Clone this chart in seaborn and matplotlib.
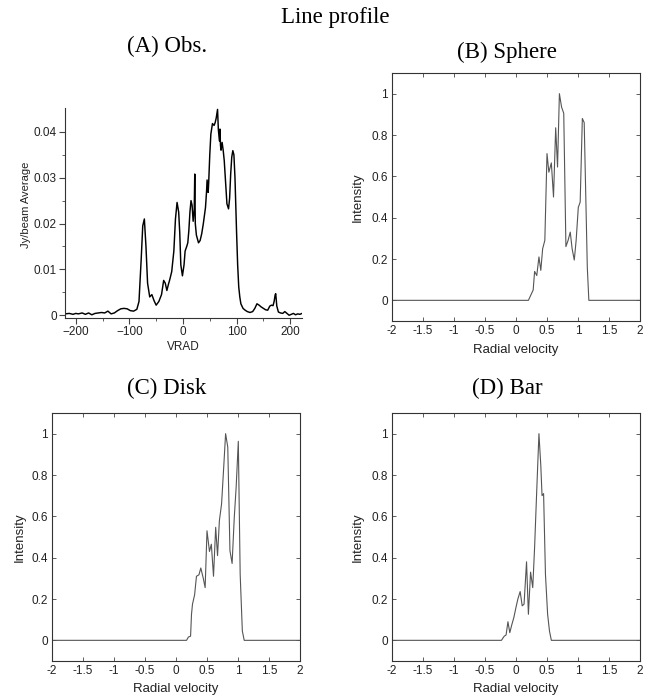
import numpy as np
import pandas as pd
import matplotlib
matplotlib.use("Agg")
import matplotlib.pyplot as plt
import seaborn as sns

# ---- Data ----
obs_v = [-220, -212, -205, -200, -195, -188, -182, -176, -170, -164, -158, -152, -146, -140, -134,
         -128, -122, -116, -110, -104, -98, -92, -86, -82, -78, -75, -72, -69, -66, -62, -58, -54,
         -50, -45, -40, -36, -33, -30, -27, -25, -21, -17, -14, -11, -8, -6, -4, -1, 2, 4, 7, 9, 11,
         13, 15, 17, 19, 21, 22, 23, 25, 29, 32, 35, 38, 42, 44, 45, 47, 48, 50, 52, 55, 58, 60, 62,
         64.5, 66, 68, 69, 70, 71, 73, 75, 77, 80, 82, 85, 87, 89, 91, 93, 95, 97, 100, 102, 104,
         106, 108, 112, 116, 120, 125, 130, 134, 138, 142, 146, 150, 154, 158, 162, 165, 168, 170,
         172, 173, 175, 178, 182, 186, 190, 194, 198, 202, 206, 210, 214, 218, 222]
obs_i = [0.0003, 0.0004, 0.0002, 0.0004, 0.0003, 0.0005, 0.0002, 0.0005, 0.0001, 0.0004, 0.0005,
         0.0006, 0.0005, 0.0009, 0.0003, 0.0005, 0.0010, 0.0014, 0.0015, 0.0014, 0.0010, 0.0009,
         0.0013, 0.0030, 0.0120, 0.0195, 0.0210, 0.0150, 0.0070, 0.0040, 0.0045, 0.0032, 0.0022,
         0.0030, 0.0045, 0.0076, 0.0070, 0.0054, 0.0068, 0.0076, 0.0095, 0.0140, 0.0210, 0.0246,
         0.0225, 0.0180, 0.0110, 0.0086, 0.0110, 0.0140, 0.0150, 0.0158, 0.0185, 0.0225, 0.0250,
         0.0240, 0.0205, 0.0230, 0.0308, 0.0200, 0.0175, 0.0158, 0.0163, 0.0178, 0.0200, 0.0235,
         0.0270, 0.0295, 0.0268, 0.0290, 0.0350, 0.0395, 0.0418, 0.0414, 0.0420, 0.0430, 0.0449,
         0.0405, 0.0380, 0.0406, 0.0370, 0.0360, 0.0377, 0.0360, 0.0337, 0.0280, 0.0243, 0.0232,
         0.0255, 0.0308, 0.0345, 0.0359, 0.0350, 0.0300, 0.0180, 0.0110, 0.0062, 0.0040, 0.0025,
         0.0015, 0.0011, 0.0008, 0.0006, 0.0008, 0.0015, 0.0025, 0.0022, 0.0018, 0.0015, 0.0012,
         0.0011, 0.0020, 0.0022, 0.0021, 0.0030, 0.0045, 0.0047, 0.0020, 0.0007, 0.0005, 0.0004,
         0.0008, 0.0004, 0.0000, 0.0002, 0.0004, 0.0001, 0.0003, 0.0002, 0.0004]

sphere_v = [-2.0, 0.2, 0.277, 0.30, 0.335, 0.37, 0.40, 0.43, 0.465, 0.50, 0.53, 0.57, 0.605, 0.64,
            0.67, 0.70, 0.735, 0.77, 0.805, 0.84, 0.875, 0.905, 0.94, 0.97, 1.005, 1.035, 1.07,
            1.10, 1.15, 1.175, 2.0]
sphere_i = [0.0, 0.0, 0.05, 0.14, 0.12, 0.21, 0.145, 0.25, 0.29, 0.71, 0.62, 0.665, 0.50, 0.835,
            0.645, 1.0, 0.935, 0.905, 0.26, 0.29, 0.33, 0.25, 0.195, 0.29, 0.45, 0.475, 0.88,
            0.86, 0.16, 0.0, 0.0]

disk_v = [-2.0, 0.17, 0.20, 0.235, 0.25, 0.266, 0.30, 0.33, 0.37, 0.40, 0.44, 0.47, 0.50, 0.54,
          0.57, 0.605, 0.64, 0.67, 0.70, 0.735, 0.77, 0.80, 0.835, 0.87, 0.905, 0.94, 0.97, 1.005,
          1.035, 1.07, 1.10, 2.0]
disk_i = [0.0, 0.0, 0.016, 0.02, 0.126, 0.175, 0.22, 0.31, 0.317, 0.35, 0.30, 0.255, 0.53, 0.43,
          0.465, 0.31, 0.547, 0.41, 0.58, 0.66, 0.84, 1.0, 0.935, 0.434, 0.372, 0.595, 0.74, 0.963,
          0.32, 0.045, 0.0, 0.0]

bar_v = [-2.0, -0.235, -0.19, -0.16, -0.13, -0.10, -0.07, -0.035, 0.0, 0.03, 0.067, 0.10, 0.13,
         0.17, 0.20, 0.235, 0.27, 0.30, 0.33, 0.37, 0.40, 0.42, 0.445, 0.475, 0.51, 0.54, 0.57, 2.0]
bar_i = [0.0, 0.0, 0.02, 0.026, 0.09, 0.037, 0.073, 0.11, 0.16, 0.2, 0.236, 0.167, 0.175, 0.38,
         0.126, 0.33, 0.255, 0.45, 0.69, 1.0, 0.846, 0.70, 0.71, 0.32, 0.126, 0.045, 0.0, 0.0]

sim_xticks = [-2, -1.5, -1, -0.5, 0, 0.5, 1, 1.5, 2]
sim_xlabels = ["-2", "-1.5", "-1", "-0.5", "0", "0.5", "1", "1.5", "2"]
sim_yticks = [0, 0.2, 0.4, 0.6, 0.8, 1]
sim_ylabels = ["0", "0.2", "0.4", "0.6", "0.8", "1"]
obs_xticks = [-200, -100, 0, 100, 200]
obs_yticks = [0, 0.01, 0.02, 0.03, 0.04]
obs_ylabels = ["0", "0.01", "0.02", "0.03", "0.04"]

titles = ["(A) Obs.", "(B) Sphere", "(C) Disk", "(D) Bar"]

sns.set_style("white")
plt.rcParams['font.family'] = ['Liberation Sans', 'DejaVu Sans']

W, H = 670, 700
fig = plt.figure(figsize=(6.7, 7.0), dpi=100)

def px_axes(l, t, r, b):
    return fig.add_axes([l / W, 1 - b / H, (r - l) / W, (b - t) / H])

serif = dict(family=['Liberation Serif', 'DejaVu Serif'], fontsize=16.5, color='black')
fig.text(335 / W, 1 - 17 / H, "Line profile", ha='center', va='center', **serif)

# Panel A
axA = px_axes(65, 108, 302, 318)
sns.lineplot(x=obs_v, y=obs_i, ax=axA, color='black', lw=1.05, estimator=None, sort=False)
axA.set_xlim(-220, 222)
axA.set_ylim(-0.0006, 0.0452)
axA.set_xticks(obs_xticks)
axA.set_xticklabels([str(v).replace('-', '\u2212') for v in obs_xticks])
axA.set_yticks(obs_yticks)
axA.set_yticklabels(obs_ylabels)
axA.set_xticks([-150, -50, 50, 150], minor=True)
axA.set_yticks([0.005, 0.015, 0.025, 0.035], minor=True)
for s in ['top', 'right']:
    axA.spines[s].set_visible(False)
for s in ['left', 'bottom']:
    axA.spines[s].set_color('#333333')
    axA.spines[s].set_linewidth(0.8)
axA.tick_params(which='major', direction='out', length=4, width=0.8, color='#444444',
                labelsize=8.5, labelcolor='#222222', left=True, bottom=True, pad=2)
axA.tick_params(which='minor', direction='out', length=2.5, width=0.6, color='#444444',
                left=True, bottom=True)
axA.set_xlabel("")
axA.set_ylabel("")
fig.text(183 / W, 1 - 347 / H, "VRAD", ha='center', va='center', fontsize=8.5, color='#222222')
fig.text(26.5 / W, 1 - 205 / H, "Jy/beam Average", ha='center', va='center', rotation=90,
         fontsize=8, color='#222222')
fig.text(167 / W, 1 - 46 / H, titles[0], ha='center', va='center', **serif)

sim = [
    (392, 73, 640, 321, sphere_v, sphere_i, titles[1], 507, 52, 350, 358),
    (52, 413, 300, 661, disk_v, disk_i, titles[2], 167, 388, 689, 20),
    (392, 413, 640, 661, bar_v, bar_i, titles[3], 507, 388, 689, 358),
]
for (l, t, r, b, xv, yv, title, tx, ty, xly, yly) in sim:
    ax = px_axes(l, t, r, b)
    df = pd.DataFrame({"v": xv, "i": yv})
    sns.lineplot(data=df, x="v", y="i", ax=ax, color='#555555', lw=0.8, estimator=None, sort=False)
    ax.set_xlim(-2, 2)
    ax.set_ylim(-0.1, 1.1)
    ax.set_xticks(sim_xticks)
    ax.set_xticklabels(sim_xlabels)
    ax.set_yticks(sim_yticks)
    ax.set_yticklabels(sim_ylabels)
    for s in ax.spines.values():
        s.set_color('#333333')
        s.set_linewidth(0.8)
    ax.tick_params(direction='in', length=3, width=0.6, color='#444444', labelsize=8.5,
                   labelcolor='#222222', top=True, right=True, left=True, bottom=True, pad=3)
    ax.set_xlabel("")
    ax.set_ylabel("")
    fig.text((l + r) / 2 / W, 1 - xly / H, "Radial velocity", ha='center', va='center',
             fontsize=9.5, color='#222222')
    fig.text(yly / W, 1 - (t + b) / 2 / H, "Intensity", ha='center', va='center', rotation=90,
             fontsize=9.5, color='#222222')
    fig.text(tx / W, 1 - ty / H, title, ha='center', va='center', **serif)

fig.savefig("out.png", dpi=100, facecolor='white')
